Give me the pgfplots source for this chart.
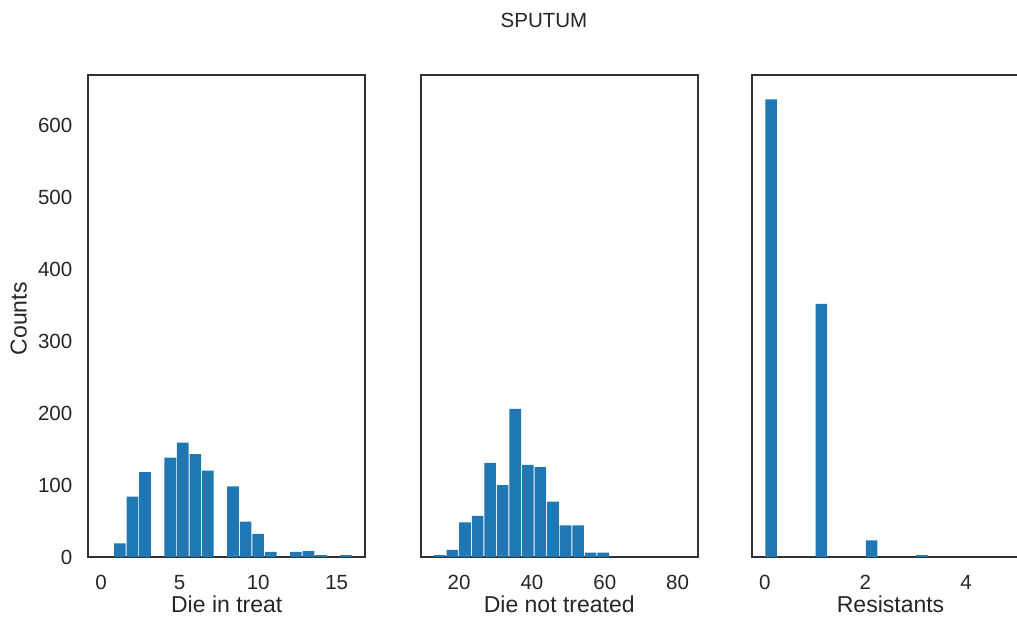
\documentclass[border=0pt]{standalone}
\usepackage{fontspec}
\setmainfont{Liberation Sans}
\usepackage{pgfplots}
\pgfplotsset{compat=1.18}
\definecolor{barblue}{HTML}{1F77B4}
\definecolor{spine}{HTML}{333333}
\definecolor{txt}{HTML}{262626}

\pgfplotsset{
  hist/.style={
    scale only axis, width=276.5pt, height=482pt,
    anchor=south west,
    ymin=0, ymax=670,
    axis line style={spine, line width=2pt},
    major tick length=0pt,
    tick label style={font=\fontsize{20.5}{24}\selectfont, text=txt, inner sep=0pt},
    /pgf/number format/assume math mode=true,
    xticklabel shift=18pt, yticklabel shift=16pt,
    label style={font=\fontsize{23}{27}\selectfont, text=txt},
    xlabel style={at={(axis description cs:0.5,0)}, anchor=base, yshift=-56pt},
  },
  % bars a little narrower than the bin, so a thin white gap shows between them
  histbar/.style={ybar, bar shift=0pt, fill=barblue, draw=none},
}

\begin{document}
\begin{tikzpicture}
\useasboundingbox (0,0) rectangle (1017pt,617pt);
\clip (0,0) rectangle (1017pt,617pt);

\node[font=\fontsize{20.5}{24}\selectfont, text=txt] at (544pt,597pt) {SPUTUM};

% Die in treat
\begin{axis}[hist, at={(88.5pt,60pt)},
  xmin=-0.8, xmax=16.8, xtick={0,5,10,15},
  ytick={0,100,200,300,400,500,600},
  xlabel={Die in treat}, ylabel={Counts},
  ylabel style={at={([xshift=-61.8pt]axis description cs:0,0.494)}, anchor=base}]
\addplot[histbar, bar width=0.74] coordinates {
  (1.2,19) (2.0,84) (2.8,118) (4.4,138) (5.2,159) (6.0,143) (6.8,120)
  (8.4,98) (9.2,49) (10.0,32) (10.8,7) (12.4,7) (13.2,8) (14.0,2.5) (15.6,2.5)
};
\end{axis}

% Die not treated
\begin{axis}[hist, at={(421pt,60pt)},
  xmin=9.55, xmax=85.45, xtick={20,40,60,80},
  ytick={0,100,200,300,400,500,600}, yticklabels={},
  xlabel={Die not treated}]
\addplot[histbar, bar width=3.18] coordinates {
  (14.725,2.5) (18.175,10) (21.625,48) (25.075,57) (28.525,131) (31.975,100)
  (35.425,206) (38.875,128) (42.325,125) (45.775,77) (49.225,44) (52.675,44)
  (56.125,6) (59.575,6)
};
\end{axis}

% Resistants
\begin{axis}[hist, at={(752.3pt,60pt)},
  xmin=-0.25, xmax=5.25, xtick={0,2,4},
  ytick={0,100,200,300,400,500,600}, yticklabels={},
  xlabel={Resistants}]
\addplot[histbar, bar width=0.23] coordinates {
  (0.125,636) (1.125,352) (2.125,23) (3.125,2.5)
};
\end{axis}
\end{tikzpicture}
\end{document}
